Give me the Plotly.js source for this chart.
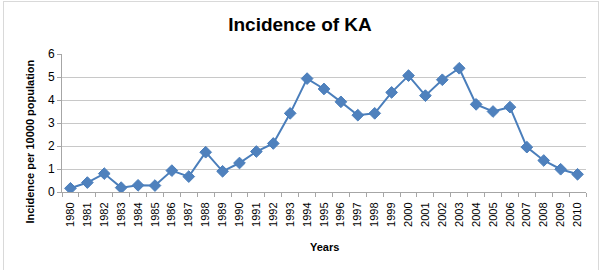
<!DOCTYPE html>
<html>
<head>
<meta charset="utf-8">
<script src="https://cdn.plot.ly/plotly-3.0.1.min.js"></script>
<style>
html,body{margin:0;padding:0;background:#fff;}
#wrap{position:relative;width:600px;height:270px;}
#chart{width:600px;height:270px;}
#frame{position:absolute;left:3px;top:1px;width:594px;height:275px;border:1px solid #d9d9d9;pointer-events:none;}
</style>
</head>
<body>
<div id="wrap"><div id="chart"></div><div id="frame"></div></div>
<script>
const years = ["1980","1981","1982","1983","1984","1985","1986","1987","1988","1989","1990",
  "1991","1992","1993","1994","1995","1996","1997","1998","1999","2000",
  "2001","2002","2003","2004","2005","2006","2007","2008","2009","2010"];
const incidence = [0.16,0.41,0.80,0.19,0.29,0.28,0.93,0.67,1.73,0.90,1.26,
  1.76,2.11,3.42,4.93,4.48,3.92,3.34,3.42,4.33,5.06,
  4.19,4.88,5.38,3.81,3.50,3.69,1.95,1.37,0.99,0.77];
const yTicks = [0,1,2,3,4,5,6];

const FONT = 'Liberation Sans, Arial, sans-serif';
const trace = {
  x: years, y: incidence, type: 'scatter', mode: 'lines+markers',
  line: {color: '#4a7ebb', width: 2},
  marker: {symbol: 'diamond', size: 9, color: '#4f81bd', line: {color: '#4a7ebb', width: 1}},
  hoverinfo: 'skip'
};
const layout = {
  width: 600, height: 270,
  margin: {l: 62, r: 14, t: 54, b: 78},
  paper_bgcolor: '#fff', plot_bgcolor: '#fff',
  showlegend: false,
  title: {text: '<b>Incidence of KA</b>', font: {family: FONT, size: 19, color: '#000'},
    x: 0.5, xanchor: 'center', y: 0.91, yanchor: 'middle'},
  xaxis: {
    type: 'category', tickangle: -90, tickson: 'boundaries',
    ticks: 'outside', ticklen: 4, tickcolor: '#a6a6a6', ticklabelstandoff: 5,
    showline: true, linecolor: '#a6a6a6', linewidth: 1, showgrid: false,
    tickfont: {family: FONT, size: 11, color: '#000'},
    range: [-0.5, years.length - 0.5]
  },
  yaxis: {
    range: [0, 6], tickvals: yTicks, ticktext: yTicks.map(String),
    ticks: 'outside', ticklen: 4, tickcolor: '#a6a6a6',
    showline: true, linecolor: '#a6a6a6', linewidth: 1,
    showgrid: true, gridcolor: '#c8c8c8', gridwidth: 1, zeroline: false,
    tickfont: {family: FONT, size: 12, color: '#000'}
  },
  annotations: [
    {text: '<b>Years</b>', xref: 'paper', yref: 'paper', x: 0.5, y: -0.399,
     xanchor: 'center', yanchor: 'middle', showarrow: false,
     font: {family: FONT, size: 11, color: '#000'}},
    {text: '<b>Incidence per 10000 population</b>', xref: 'paper', yref: 'paper', x: -0.061, y: 0.366,
     xanchor: 'center', yanchor: 'middle', textangle: -90, showarrow: false,
     font: {family: FONT, size: 11, color: '#000'}}
  ]
};
Plotly.newPlot('chart', [trace], layout, {displayModeBar: false, staticPlot: true});
</script>
</body>
</html>
